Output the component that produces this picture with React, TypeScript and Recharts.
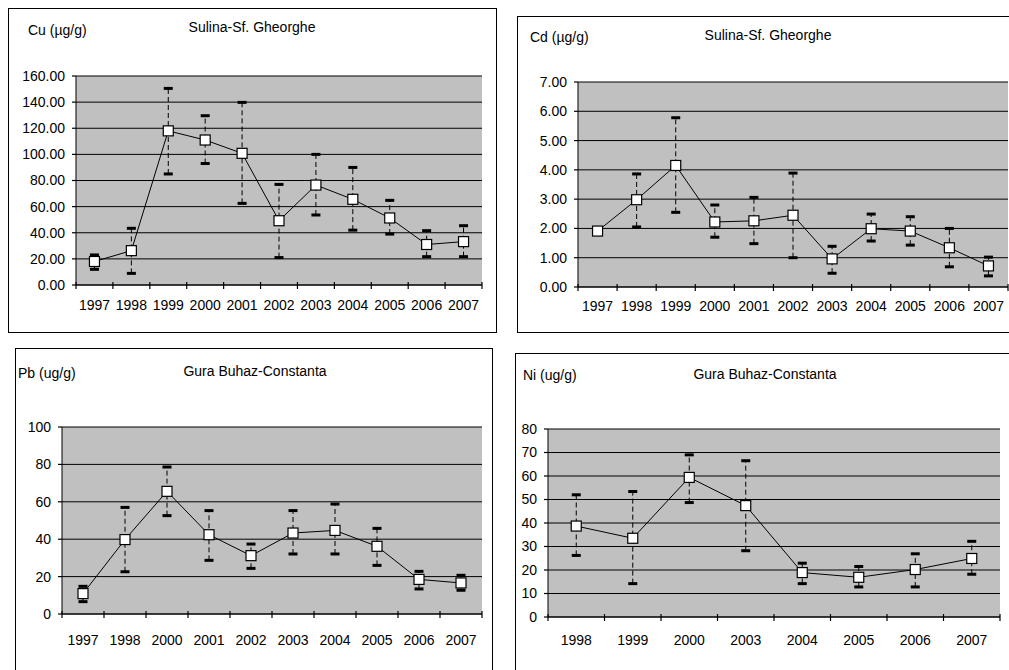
import React from 'react';
import { ComposedChart, Line, XAxis, YAxis, CartesianGrid, ErrorBar, ReferenceArea } from 'recharts';

// ---------- Data ----------
const cuYears = ['1997', '1998', '1999', '2000', '2001', '2002', '2003', '2004', '2005', '2006', '2007'];
const cuValues = [18, 26.3, 118, 111, 100.8, 49.2, 76.5, 65.6, 51.3, 31, 33.2];
const cuLow = [12, 8.9, 85, 93, 62.5, 21, 53.6, 42, 39, 21.7, 21.7];
const cuHigh = [23, 43.4, 150.5, 129.6, 139.8, 77, 100, 90, 64.8, 41.6, 45.4];
const cuTicks = [0, 20, 40, 60, 80, 100, 120, 140, 160];

const cdYears = ['1997', '1998', '1999', '2000', '2001', '2002', '2003', '2004', '2005', '2006', '2007'];
const cdValues = [1.91, 2.98, 4.15, 2.22, 2.26, 2.45, 0.96, 1.99, 1.91, 1.34, 0.72];
const cdLow = [null, 2.05, 2.55, 1.7, 1.48, 1.0, 0.47, 1.57, 1.43, 0.69, 0.38];
const cdHigh = [null, 3.86, 5.78, 2.8, 3.06, 3.89, 1.39, 2.49, 2.4, 2.0, 1.02];
const cdTicks = [0, 1, 2, 3, 4, 5, 6, 7];

const pbYears = ['1997', '1998', '2000', '2001', '2002', '2003', '2004', '2005', '2006', '2007'];
const pbValues = [10.9, 39.8, 65.6, 42.4, 31.2, 43.3, 44.7, 36.2, 18.5, 16.6];
const pbLow = [6.6, 22.6, 52.6, 28.7, 24.4, 32.1, 32.1, 26.0, 13.4, 12.7];
const pbHigh = [14.8, 57, 78.6, 55.3, 37.4, 55.3, 58.8, 45.8, 22.8, 20.7];
const pbTicks = [0, 20, 40, 60, 80, 100];

const niYears = ['1998', '1999', '2000', '2003', '2004', '2005', '2006', '2007'];
const niValues = [38.7, 33.5, 59.4, 47.4, 18.9, 16.9, 20.2, 24.9];
const niLow = [26.2, 14.2, 48.7, 28.2, 14.2, 12.8, 12.8, 18.2];
const niHigh = [52, 53.4, 69.0, 66.5, 22.9, 21.5, 26.9, 32.2];
const niTicks = [0, 10, 20, 30, 40, 50, 60, 70, 80];

const FONT = '"Liberation Sans", Arial, Helvetica, sans-serif';
const FS = 14;
const Y_TM = 11;

type Rect = { l: number; t: number; r: number; b: number };

type PanelCfg = {
  years: string[];
  values: number[];
  low: (number | null)[];
  high: (number | null)[];
  ticks: number[];
  decimals: number;
  plot: Rect;
  box: { l: number; t: number; w: number; h: number };
  xGap: number;
  unitLabel: string;
  unitPos: { x: number; y: number };
  title: string;
  titlePos: { x: number; y: number };
};

const renderXTick = (props: any, band: number, tm: number, n: number) => {
  const { x, y, payload, index } = props;
  const axisY = Number(y) - tm;
  const lx = Number(x) - band / 2;
  const rx = Number(x) + band / 2;
  return (
    <g key={`xt-${index}`}>
      <line x1={lx} x2={lx} y1={axisY - 3} y2={axisY + 4} stroke="#000" strokeWidth={1.2} />
      {index === n - 1 ? (
        <line x1={rx} x2={rx} y1={axisY - 3} y2={axisY + 4} stroke="#000" strokeWidth={1.2} />
      ) : null}
      <text x={x} y={y} dy="0.71em" textAnchor="middle" fontSize={FS} fontFamily={FONT} fill="#000">
        {payload.value}
      </text>
    </g>
  );
};

const renderYTick = (props: any, decimals: number) => {
  const { x, y, payload, index } = props;
  const axisX = Number(x) + Y_TM;
  return (
    <g key={`yt-${index}`}>
      <line x1={axisX - 4} x2={axisX} y1={y} y2={y} stroke="#000" strokeWidth={1.2} />
      <text x={x} y={y} dy="0.355em" textAnchor="end" fontSize={FS} fontFamily={FONT} fill="#000">
        {Number(payload.value).toFixed(decimals)}
      </text>
    </g>
  );
};

const capDot = (p: any) => {
  if (p.value == null || p.cy == null || isNaN(p.cy)) return <g key={`cap-${p.dataKey}-${p.index}`} />;
  return (
    <rect key={`cap-${p.dataKey}-${p.index}`} x={p.cx - 4.5} y={p.cy - 1.5} width={9} height={3} fill="#000" />
  );
};

const squareDot = (p: any) => (
  <rect
    key={`sq-${p.index}`}
    x={p.cx - 5}
    y={p.cy - 5}
    width={10}
    height={10}
    fill="#fff"
    stroke="#000"
    strokeWidth={1.2}
  />
);

function Panel({ cfg }: { cfg: PanelCfg }) {
  const { years, values, low, high, ticks, decimals, plot, box, xGap } = cfg;
  const data = years.map((y, i) => ({
    year: y,
    value: values[i],
    lo: low[i],
    hi: high[i],
    err: low[i] == null || high[i] == null ? [0, 0] : [values[i] - (low[i] as number), (high[i] as number) - values[i]],
  }));
  const padL = 70, padT = 10, padR = 10, padB = 40;
  const yAxisW = 60, xAxisH = 30;
  const plotW = plot.r - plot.l;
  const W = plotW + padL + padR;
  const H = plot.b - plot.t + padT + padB;
  const n = years.length;
  const band = plotW / n;
  const tm = Math.round(xGap - FS * 0.36);
  const max = ticks[ticks.length - 1];
  return (
    <>
      <div
        style={{
          position: 'absolute',
          left: box.l,
          top: box.t,
          width: box.w,
          height: box.h,
          border: '1.5px solid #000',
          boxSizing: 'border-box',
        }}
      />
      <div
        style={{
          position: 'absolute',
          left: cfg.unitPos.x,
          top: cfg.unitPos.y - 8,
          lineHeight: '16px',
          fontSize: FS,
          fontFamily: FONT,
          whiteSpace: 'nowrap',
          color: '#000',
        }}
      >
        {cfg.unitLabel}
      </div>
      <div
        style={{
          position: 'absolute',
          left: cfg.titlePos.x - 150,
          width: 300,
          textAlign: 'center',
          top: cfg.titlePos.y - 8,
          lineHeight: '16px',
          fontSize: FS,
          fontFamily: FONT,
          whiteSpace: 'nowrap',
          color: '#000',
        }}
      >
        {cfg.title}
      </div>
      <div style={{ position: 'absolute', left: plot.l - padL, top: plot.t - padT }}>
        <ComposedChart
          width={W}
          height={H}
          data={data}
          margin={{ top: padT, right: padR, left: padL - yAxisW, bottom: padB - xAxisH }}
        >
          <CartesianGrid vertical={false} fill="#c0c0c0" stroke="#000" strokeWidth={1} fillOpacity={1} />
          <ReferenceArea fill="none" stroke="#808080" strokeWidth={1} ifOverflow="visible" />
          <XAxis
            dataKey="year"
            type="category"
            scale="band"
            height={xAxisH}
            interval={0}
            axisLine={{ stroke: '#000', strokeWidth: 1 }}
            tickLine={false}
            tickSize={0}
            tickMargin={tm}
            tick={(p: any) => renderXTick(p, band, tm, n)}
          />
          <YAxis
            type="number"
            width={yAxisW}
            domain={[0, max]}
            ticks={ticks}
            interval={0}
            allowDataOverflow
            axisLine={{ stroke: '#000', strokeWidth: 1 }}
            tickLine={false}
            tickSize={0}
            tickMargin={Y_TM}
            tick={(p: any) => renderYTick(p, decimals)}
          />
          <Line
            dataKey="lo"
            stroke="none"
            dot={capDot}
            activeDot={false}
            isAnimationActive={false}
            legendType="none"
          />
          <Line
            dataKey="hi"
            stroke="none"
            dot={capDot}
            activeDot={false}
            isAnimationActive={false}
            legendType="none"
          />
          <Line
            dataKey="value"
            type="linear"
            stroke="#000"
            strokeWidth={1}
            dot={squareDot}
            activeDot={false}
            isAnimationActive={false}
          >
            <ErrorBar dataKey="err" direction="y" width={0} stroke="#000" strokeWidth={1} strokeDasharray="5 3" />
          </Line>
        </ComposedChart>
      </div>
    </>
  );
}

const panels: PanelCfg[] = [
  {
    years: cuYears, values: cuValues, low: cuLow, high: cuHigh, ticks: cuTicks, decimals: 2,
    plot: { l: 76, t: 76, r: 482, b: 285 },
    box: { l: 8, t: 8, w: 489, h: 325 },
    xGap: 20,
    unitLabel: 'Cu (µg/g)', unitPos: { x: 28, y: 30 },
    title: 'Sulina-Sf. Gheorghe', titlePos: { x: 252, y: 27 },
  },
  {
    years: cdYears, values: cdValues, low: cdLow, high: cdHigh, ticks: cdTicks, decimals: 2,
    plot: { l: 578, t: 82, r: 1008, b: 287 },
    box: { l: 517, t: 16, w: 520, h: 317 },
    xGap: 19,
    unitLabel: 'Cd (µg/g)', unitPos: { x: 530, y: 37 },
    title: 'Sulina-Sf. Gheorghe', titlePos: { x: 768, y: 35 },
  },
  {
    years: pbYears, values: pbValues, low: pbLow, high: pbHigh, ticks: pbTicks, decimals: 0,
    plot: { l: 62, t: 427, r: 482, b: 614 },
    box: { l: 15, t: 348, w: 478, h: 400 },
    xGap: 26,
    unitLabel: 'Pb (ug/g)', unitPos: { x: 18, y: 373 },
    title: 'Gura Buhaz-Constanta', titlePos: { x: 255, y: 371 },
  },
  {
    years: niYears, values: niValues, low: niLow, high: niHigh, ticks: niTicks, decimals: 0,
    plot: { l: 548, t: 429, r: 1000, b: 617 },
    box: { l: 515, t: 353, w: 520, h: 400 },
    xGap: 23,
    unitLabel: 'Ni (ug/g)', unitPos: { x: 523, y: 375 },
    title: 'Gura Buhaz-Constanta', titlePos: { x: 765, y: 374 },
  },
];

export default function App() {
  return (
    <div
      style={{
        position: 'absolute',
        left: 0,
        top: 0,
        width: 1009,
        height: 670,
        overflow: 'hidden',
        background: '#fff',
      }}
    >
      {panels.map((cfg, i) => (
        <Panel key={i} cfg={cfg} />
      ))}
    </div>
  );
}
